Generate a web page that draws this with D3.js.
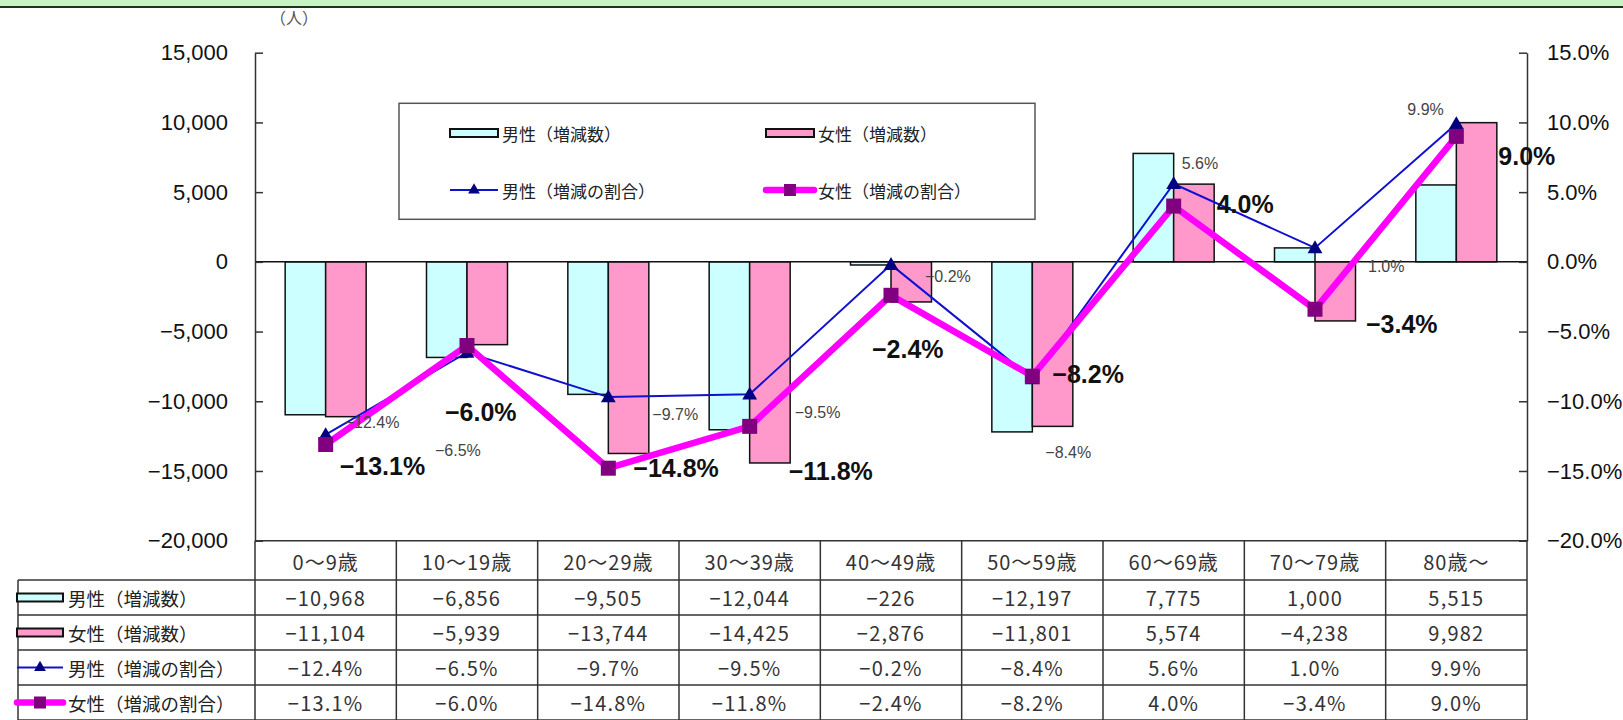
<!DOCTYPE html>
<html lang="ja">
<head>
<meta charset="UTF-8">
<title>年齢階級別 人口の増減</title>
<style>
  body { margin: 0; background: #fff; }
  svg text { font-family: "Noto Sans CJK JP", sans-serif; }
</style>
</head>
<body>
<div id="chart"></div>
<script src="https://d3js.org/d3.v7.min.js"></script>
<script>
// data
const categories = ["0～9歳", "10～19歳", "20～29歳", "30～39歳", "40～49歳", "50～59歳", "60～69歳", "70～79歳", "80歳～"];
const maleCount = [-10968, -6856, -9505, -12044, -226, -12197, 7775, 1000, 5515];
const femaleCount = [-11104, -5939, -13744, -14425, -2876, -11801, 5574, -4238, 9982];
const maleRate = [-12.4, -6.5, -9.7, -9.5, -0.2, -8.4, 5.6, 1.0, 9.9];
const femaleRate = [-13.1, -6.0, -14.8, -11.8, -2.4, -8.2, 4.0, -3.4, 9.0];
const countTicks = [15000, 10000, 5000, 0, -5000, -10000, -15000, -20000];
const rateTicks = [15, 10, 5, 0, -5, -10, -15, -20];
const seriesNames = ["男性（増減数）", "女性（増減数）", "男性（増減の割合）", "女性（増減の割合）"];

// label placement (offset from the point, text start / middle)
const maleLabelOffset = [[19, -12], [-32, 98], [44, 17], [45, 18], [34, 12], [13, 74], [8, -20], [53, 19], [-49, -14]];
const femaleLabelOffset = [[14, 22], [-22, 66], [25, 0], [39, 45], [-19, 54], [20, -2], [43, -2], [51, 15], [42, 20]];

const width = 1623, height = 720;
const plotLeft = 255, plotRight = 1527, plotTop = 52.7, plotBottom = 540.7;
const rowLabelX = 18;
const headerBottom = 580, rowH = 35;

const colMale = "#ccffff", colFemale = "#ff99cc";
const lineMale = "#1010d0", markMale = "#000080";
const lineFemale = "#ff00ff", markFemale = "#800080";

const svg = d3.select("#chart").append("svg")
  .attr("width", width)
  .attr("height", height);

// top frame band
svg.append("rect").attr("x", 0).attr("y", 0).attr("width", width).attr("height", 6).attr("fill", "#c8f3c2");
svg.append("line").attr("x1", 0).attr("x2", width).attr("y1", 7).attr("y2", 7).attr("stroke", "#1e3320").attr("stroke-width", 2);

const y = d3.scaleLinear().domain([-20000, 15000]).range([plotBottom, plotTop]);
const yR = d3.scaleLinear().domain([-20, 15]).range([plotBottom, plotTop]);
const x0 = d3.scaleBand().domain(categories).range([plotLeft, plotRight]).padding(0);
const x1 = d3.scaleBand().domain(["m", "f"]).range([0, x0.bandwidth()]).paddingInner(0).paddingOuter(0.745);
const cx = c => x0(c) + x0.bandwidth() / 2;

// bars
const barData = [];
categories.forEach((c, i) => {
  barData.push({ c, k: "m", v: maleCount[i] });
  barData.push({ c, k: "f", v: femaleCount[i] });
});
svg.append("g").selectAll("rect")
  .data(barData)
  .join("rect")
  .attr("x", d => x0(d.c) + x1(d.k))
  .attr("width", x1.bandwidth())
  .attr("y", d => y(Math.max(0, d.v)))
  .attr("height", d => Math.abs(y(d.v) - y(0)))
  .attr("fill", d => d.k === "m" ? colMale : colFemale)
  .attr("stroke", "#111")
  .attr("stroke-width", 1.5);

// zero line
svg.append("line")
  .attr("x1", plotLeft).attr("x2", plotRight)
  .attr("y1", y(0)).attr("y2", y(0))
  .attr("stroke", "#111").attr("stroke-width", 1.5);

// axes
const fmtCount = d3.format(",");
const fmtRate = d => d3.format(".1f")(d) + "%";

const axL = svg.append("g")
  .attr("transform", `translate(${plotLeft},0)`)
  .call(d3.axisLeft(y).tickValues(countTicks).tickFormat(fmtCount).tickSizeInner(-8).tickSizeOuter(0).tickPadding(27));
const axR = svg.append("g")
  .attr("transform", `translate(${plotRight},0)`)
  .call(d3.axisRight(yR).tickValues(rateTicks).tickFormat(fmtRate).tickSizeInner(-8).tickSizeOuter(0).tickPadding(20));
[axL, axR].forEach(ax => {
  ax.attr("font-size", 22).attr("font-family", "'Liberation Sans', Arial, sans-serif");
  ax.selectAll("text").attr("fill", "#111").style("font-family", "'Liberation Sans', Arial, sans-serif");
  ax.select(".domain").attr("stroke", "#333").attr("stroke-width", 1.5);
  ax.selectAll(".tick line").attr("stroke", "#333").attr("stroke-width", 1.5);
});

svg.append("text")
  .attr("x", 294).attr("y", 17)
  .attr("text-anchor", "middle")
  .attr("dominant-baseline", "central")
  .attr("font-size", 16)
  .attr("fill", "#555")
  .text("（人）");

// lines
const line = d3.line().x(d => cx(d.c)).y(d => yR(d.v));
const maleData = categories.map((c, i) => ({ c, v: maleRate[i], i }));
const femaleData = categories.map((c, i) => ({ c, v: femaleRate[i], i }));

svg.append("path").datum(maleData)
  .attr("d", line).attr("fill", "none")
  .attr("stroke", lineMale).attr("stroke-width", 2);
svg.append("path").datum(femaleData)
  .attr("d", line).attr("fill", "none")
  .attr("stroke", lineFemale).attr("stroke-width", 6.5).attr("stroke-linejoin", "miter");

const tri = d3.symbol().type(d3.symbolTriangle).size(95);
svg.append("g").selectAll("path")
  .data(maleData)
  .join("path")
  .attr("d", tri)
  .attr("transform", d => `translate(${cx(d.c)},${yR(d.v) + 1})`)
  .attr("fill", markMale);

svg.append("g").selectAll("rect")
  .data(femaleData)
  .join("rect")
  .attr("x", d => cx(d.c) - 7.5).attr("y", d => yR(d.v) - 7.5)
  .attr("width", 15).attr("height", 15)
  .attr("fill", markFemale);

// data labels
svg.append("g").selectAll("text")
  .data(maleData)
  .join("text")
  .attr("x", d => cx(d.c) + maleLabelOffset[d.i][0])
  .attr("y", d => yR(d.v) + maleLabelOffset[d.i][1])
  .attr("dominant-baseline", "central")
  .attr("font-size", 16)
  .attr("fill", "#444")
  .style("font-family", "'Liberation Sans', Arial, sans-serif")
  .text(d => fmtRate(d.v));

svg.append("g").selectAll("text")
  .data(femaleData)
  .join("text")
  .attr("x", d => cx(d.c) + femaleLabelOffset[d.i][0])
  .attr("y", d => yR(d.v) + femaleLabelOffset[d.i][1])
  .attr("dominant-baseline", "central")
  .attr("font-size", 25)
  .attr("font-weight", "bold")
  .attr("fill", "#111")
  .style("font-family", "'Liberation Sans', Arial, sans-serif")
  .text(d => fmtRate(d.v));

// legend box
function drawKey(g, k, x, yc, w) {
  if (k < 2) {
    g.append("rect").attr("x", x).attr("y", yc - 4).attr("width", w).attr("height", 8)
      .attr("fill", k === 0 ? colMale : colFemale).attr("stroke", "#111").attr("stroke-width", 2);
  } else if (k === 2) {
    g.append("line").attr("x1", x).attr("x2", x + w).attr("y1", yc).attr("y2", yc)
      .attr("stroke", lineMale).attr("stroke-width", 2);
    g.append("path").attr("d", d3.symbol().type(d3.symbolTriangle).size(60))
      .attr("transform", `translate(${x + w / 2},${yc})`).attr("fill", markMale);
  } else {
    g.append("line").attr("x1", x).attr("x2", x + w).attr("y1", yc).attr("y2", yc)
      .attr("stroke", lineFemale).attr("stroke-width", 6.5).attr("stroke-linecap", "round");
    g.append("rect").attr("x", x + w / 2 - 6).attr("y", yc - 6).attr("width", 12).attr("height", 12)
      .attr("fill", markFemale);
  }
}

const legend = svg.append("g");
legend.append("rect")
  .attr("x", 399).attr("y", 103.3).attr("width", 636).attr("height", 116)
  .attr("fill", "#fff").attr("stroke", "#555").attr("stroke-width", 1.5);
const legendPos = [[450, 133], [766, 133], [450, 190], [766, 190]];
seriesNames.forEach((name, k) => {
  const [lx, ly] = legendPos[k];
  drawKey(legend, k, lx, ly, 48);
  legend.append("text")
    .attr("x", lx + 52).attr("y", ly)
    .attr("dominant-baseline", "central")
    .attr("font-size", 17)
    .attr("fill", "#222")
    .text(name);
});

// data table
const table = svg.append("g");
const rows = [maleCount.map(fmtCount), femaleCount.map(fmtCount), maleRate.map(fmtRate), femaleRate.map(fmtRate)];

table.append("line").attr("x1", plotLeft).attr("x2", plotRight).attr("y1", plotBottom).attr("y2", plotBottom)
  .attr("stroke", "#333").attr("stroke-width", 1.5);
for (let r = 0; r < 5; r++) {
  const yy = headerBottom + r * rowH;
  table.append("line").attr("x1", rowLabelX).attr("x2", plotRight).attr("y1", yy).attr("y2", yy)
    .attr("stroke", "#333").attr("stroke-width", 1.5);
}
table.append("line").attr("x1", rowLabelX).attr("x2", rowLabelX).attr("y1", headerBottom).attr("y2", height)
  .attr("stroke", "#333").attr("stroke-width", 1.5);
x0.domain().concat([null]).forEach(c => {
  const xx = c === null ? plotRight : x0(c);
  table.append("line").attr("x1", xx).attr("x2", xx).attr("y1", plotBottom).attr("y2", height)
    .attr("stroke", "#333").attr("stroke-width", 1.5);
});

table.selectAll(".hdr")
  .data(categories)
  .join("text")
  .attr("class", "hdr")
  .attr("x", d => cx(d))
  .attr("y", (plotBottom + headerBottom) / 2 + 1)
  .attr("text-anchor", "middle")
  .attr("dominant-baseline", "central")
  .attr("font-size", 20)
  .attr("letter-spacing", 1)
  .attr("fill", "#333")
  .text(d => d);

rows.forEach((vals, r) => {
  const yc = headerBottom + r * rowH + rowH / 2;
  drawKey(table, r, rowLabelX - 1, yc, 46);
  table.append("text")
    .attr("x", 68).attr("y", yc)
    .attr("dominant-baseline", "central")
    .attr("font-size", 18.5)
    .attr("fill", "#222")
    .text(seriesNames[r]);
  table.selectAll(".row" + r)
    .data(vals)
    .join("text")
    .attr("class", "row" + r)
    .attr("x", (d, i) => cx(categories[i]))
    .attr("y", yc)
    .attr("text-anchor", "middle")
    .attr("dominant-baseline", "central")
    .attr("font-size", 20)
    .attr("letter-spacing", 1.2)
    .attr("fill", "#333")
    .text(d => d);
});
</script>
</body>
</html>
